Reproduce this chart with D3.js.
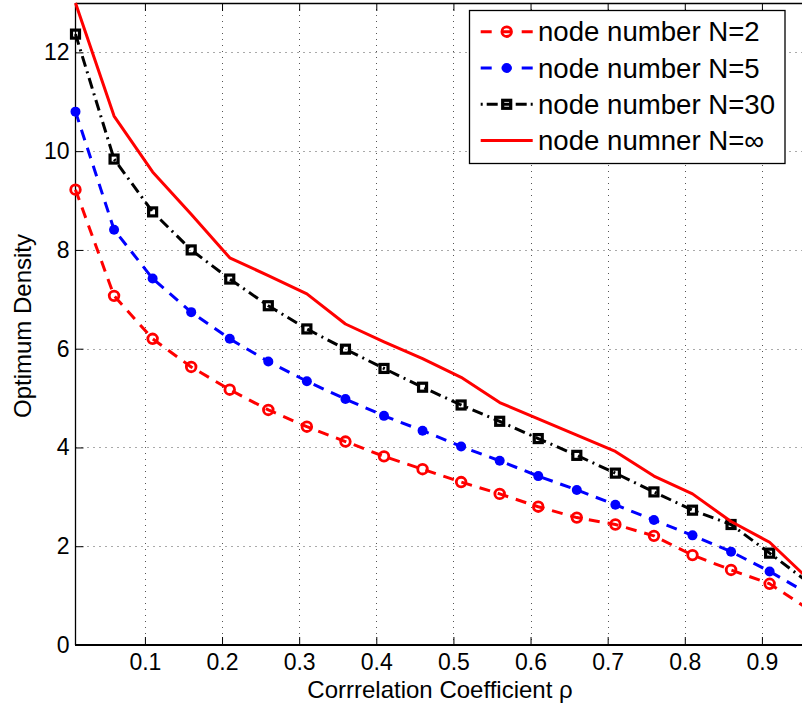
<!DOCTYPE html>
<html>
<head>
<meta charset="utf-8">
<script src="https://cdn.jsdelivr.net/npm/d3@7"></script>
<style>
  html, body { margin: 0; padding: 0; background: #fff; }
  svg { display: block; }
  text { font-family: "Liberation Sans", Arial, sans-serif; fill: #000; }
</style>
</head>
<body>
<svg id="chart" width="802" height="706"></svg>
<script>
// ---- data ----
const rho = [0.01, 0.06, 0.11, 0.16, 0.21, 0.26, 0.31, 0.36, 0.41, 0.46,
             0.51, 0.56, 0.61, 0.66, 0.71, 0.76, 0.81, 0.86, 0.91, 0.96];
const densityN2 = [9.22, 7.07, 6.20, 5.63, 5.17, 4.76, 4.42, 4.12, 3.82, 3.56,
                   3.30, 3.06, 2.80, 2.58, 2.44, 2.21, 1.82, 1.52, 1.24, 0.73];
const densityN5 = [10.80, 8.41, 7.42, 6.74, 6.20, 5.74, 5.34, 4.98, 4.64, 4.34,
                   4.02, 3.73, 3.42, 3.14, 2.84, 2.53, 2.22, 1.89, 1.49, 1.04];
const densityN30 = [12.37, 9.84, 8.77, 8.00, 7.41, 6.87, 6.40, 5.99, 5.60, 5.22,
                    4.86, 4.53, 4.18, 3.84, 3.48, 3.10, 2.73, 2.44, 1.86, 1.27];
const densityNinf = [13.0, 10.71, 9.58, 8.72, 7.84, 7.48, 7.11, 6.50, 6.14, 5.80,
                     5.42, 4.91, 4.58, 4.25, 3.92, 3.42, 3.06, 2.50, 2.08, 1.34];
const xTicks = [0.1, 0.2, 0.3, 0.4, 0.5, 0.6, 0.7, 0.8, 0.9];
const yTicks = [0, 2, 4, 6, 8, 10, 12];
const legendLabels = ["node number N=2", "node number N=5", "node number N=30", "node numner N=\u221e"];
const xTitle = "Corrrelation Coefficient \u03c1";
const yTitle = "Optimum Density";

// ---- layout ----
const svg = d3.select("#chart");
const pLeft = 75.5, pTop = 3, pBottom = 645;
const x = d3.scaleLinear().domain([0.01, 0.96]).range([pLeft, pLeft + 0.95 * 771.25]);
const y = d3.scaleLinear().domain([0, 13]).range([pBottom, pTop]);
const pRight = 810;

// grid
const grid = svg.append("g").attr("stroke", "#555").attr("stroke-width", 1)
  .attr("stroke-dasharray", "1,5");
grid.selectAll(".gx").data(xTicks).enter().append("line")
  .attr("x1", d => Math.round(x(d)) + 0.5).attr("x2", d => Math.round(x(d)) + 0.5)
  .attr("y1", pTop).attr("y2", pBottom);
grid.selectAll(".gy").data(yTicks.filter(d => d > 0)).enter().append("line")
  .attr("y1", d => Math.round(y(d)) + 0.5).attr("y2", d => Math.round(y(d)) + 0.5)
  .attr("x1", pLeft).attr("x2", pRight);

// axes (inner ticks)
const xAxisB = d3.axisBottom(x).tickValues(xTicks).tickSize(-8).tickPadding(9)
  .tickFormat(d3.format(".1f"));
const gxb = svg.append("g").attr("transform", `translate(0,${pBottom})`).call(xAxisB);
gxb.select(".domain").remove();
gxb.selectAll(".tick line").attr("stroke", "#000").attr("stroke-width", 1);
gxb.selectAll(".tick text").attr("font-size", 23).attr("font-family", "Liberation Sans, Arial, sans-serif")
  .attr("fill", "#000");

const xAxisT = d3.axisTop(x).tickValues(xTicks).tickSize(-8).tickFormat("");
const gxt = svg.append("g").attr("transform", `translate(0,${pTop})`).call(xAxisT);
gxt.select(".domain").remove();
gxt.selectAll(".tick line").attr("stroke", "#000");

const yAxis = d3.axisLeft(y).tickValues(yTicks).tickSize(-8).tickPadding(6);
const gy = svg.append("g").attr("transform", `translate(${pLeft},0)`).call(yAxis);
gy.select(".domain").remove();
gy.selectAll(".tick line").attr("stroke", "#000");
gy.selectAll(".tick text").attr("font-size", 23).attr("font-family", "Liberation Sans, Arial, sans-serif")
  .attr("fill", "#000");

// frame lines
svg.append("line").attr("x1", pLeft).attr("x2", pLeft).attr("y1", pTop).attr("y2", pBottom)
  .attr("stroke", "#000").attr("stroke-width", 1.3);
svg.append("line").attr("x1", pLeft).attr("x2", pRight).attr("y1", pTop + 0.5).attr("y2", pTop + 0.5)
  .attr("stroke", "#000").attr("stroke-width", 1.3);
svg.append("line").attr("x1", pLeft - 0.5).attr("x2", pRight).attr("y1", pBottom).attr("y2", pBottom)
  .attr("stroke", "#000").attr("stroke-width", 2.2);

// series
const series = [
  { values: densityN2, color: "#ff0000", dash: "11,8", marker: "openCircle", legendDash: "11,10,10,10,11" },
  { values: densityN5, color: "#0000ff", dash: "11,8", marker: "dot", legendDash: "11,10,10,10,11" },
  { values: densityN30, color: "#000000", dash: "11,5,2,5", marker: "square", legendDash: "2,4,11,4,10,4,11,4,2" },
  { values: densityNinf, color: "#ff0000", dash: null, marker: null, legendDash: null }
];
const line = d3.line().x((d, i) => x(rho[i])).y(d => y(d));

function drawMarker(g, type, color, cx, cy) {
  if (type === "openCircle") {
    g.append("circle").attr("cx", cx).attr("cy", cy).attr("r", 4.8)
      .attr("fill", "none").attr("stroke", color).attr("stroke-width", 2.8);
  } else if (type === "dot") {
    g.append("circle").attr("cx", cx).attr("cy", cy).attr("r", 5)
      .attr("fill", color);
  } else if (type === "square") {
    g.append("rect").attr("x", cx - 4).attr("y", cy - 4).attr("width", 8).attr("height", 8)
      .attr("fill", "none").attr("stroke", color).attr("stroke-width", 3.2);
  }
}

series.forEach(s => {
  const p = svg.append("path").datum(s.values).attr("d", line)
    .attr("fill", "none").attr("stroke", s.color).attr("stroke-width", 3)
    .attr("stroke-linejoin", "round");
  if (s.dash) p.attr("stroke-dasharray", s.dash);
  if (s.marker) {
    const g = svg.append("g");
    s.values.forEach((v, i) => drawMarker(g, s.marker, s.color, x(rho[i]), y(v)));
  }
});

// titles
svg.append("text").attr("x", 440).attr("y", 697.5).attr("text-anchor", "middle")
  .attr("font-size", 24).text(xTitle);
svg.append("text").attr("transform", "translate(31,326) rotate(-90)").attr("text-anchor", "middle")
  .attr("font-size", 24).text(yTitle);

// legend
const lg = svg.append("g");
lg.append("rect").attr("x", 469.5).attr("y", 10.5).attr("width", 315.5).attr("height", 153)
  .attr("fill", "#fff").attr("stroke", "#000").attr("stroke-width", 1.3);
series.forEach((s, i) => {
  const cy = 31.7 + i * 36.3;
  const l = lg.append("line").attr("x1", 480.7).attr("x2", 532.7).attr("y1", cy).attr("y2", cy)
    .attr("stroke", s.color).attr("stroke-width", 3);
  if (s.legendDash) l.attr("stroke-dasharray", s.legendDash);
  if (s.marker) drawMarker(lg, s.marker, s.color, 506.7, cy);
  lg.append("text").attr("x", 538).attr("y", cy).attr("dy", "0.35em")
    .attr("font-size", 27.6).text(legendLabels[i]);
});
</script>
</body>
</html>
